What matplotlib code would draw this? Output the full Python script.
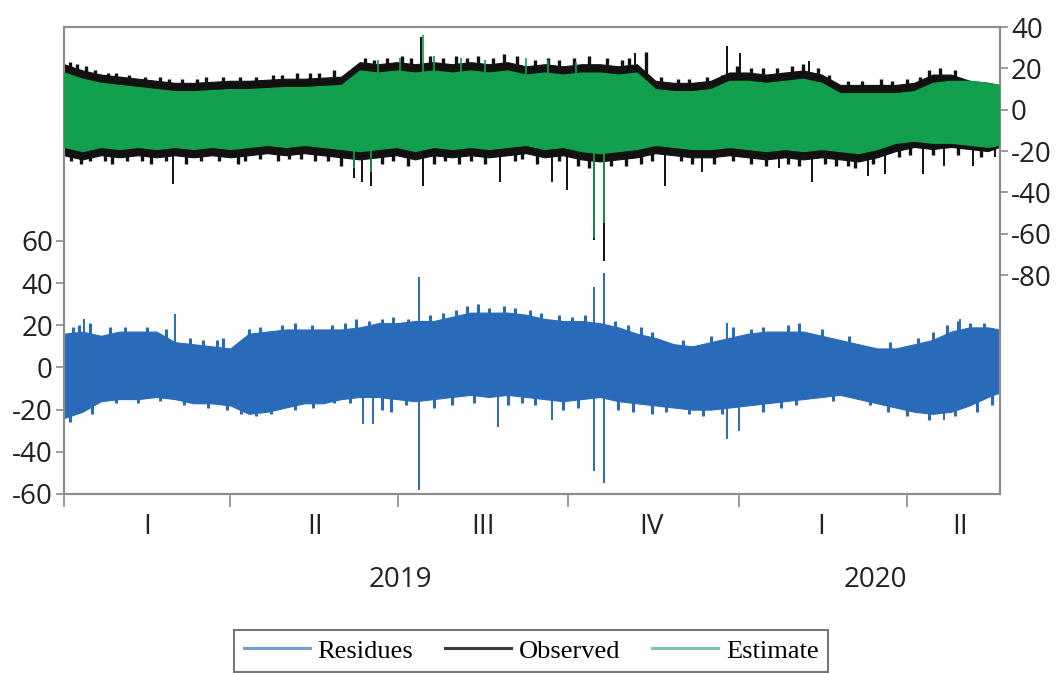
import matplotlib
matplotlib.use("Agg")
import matplotlib.pyplot as plt
import matplotlib.transforms as mtransforms
from matplotlib.lines import Line2D

# ---- data ----
# day offsets from 2019-01-01
days = [0, 10, 20, 30, 40, 50, 60, 70, 80, 90, 100, 110, 120, 130, 140, 150, 160, 170,
        180, 190, 200, 210, 220, 230, 240, 250, 260, 270, 280, 290, 300, 310, 320, 330,
        340, 350, 360, 370, 380, 390, 400, 410, 420, 430, 440, 450, 460, 470, 480, 490,
        500, 506]

obs_hi = [22, 19, 17, 16, 15, 14, 13, 13, 13.5, 14, 14, 14.5, 15, 15, 15.5, 16, 23, 22,
          23, 22, 23, 22, 23, 22, 23, 21, 22, 21, 22, 22, 21, 22, 14, 13, 13, 14, 18, 18,
          17, 18, 19, 17, 12, 12, 12, 12, 13, 17, 17, 14, 13, 12]
obs_lo = [-22, -24, -22, -23, -22, -23, -22, -23, -22, -23, -22, -21, -22, -21, -22, -23,
          -24, -23, -22, -24, -22, -23, -22, -23, -22, -21, -23, -22, -24, -25, -24, -23,
          -21, -22, -23, -23, -22, -23, -24, -23, -24, -23, -24, -25, -23, -20, -18, -19,
          -18, -19, -20, -18]

est_hi = [18, 15, 13, 12, 11, 10, 9, 9, 9.5, 10, 10, 10.5, 11, 11, 11.5, 12, 19, 18, 19,
          18, 19, 18, 19, 18, 19, 17, 18, 17, 18, 18, 17, 18, 10, 9, 9, 10, 14, 14, 13,
          14, 15, 13, 8, 8, 8, 8, 9, 13, 14, 14, 13, 12]
est_lo = [-18, -20, -18, -19, -18, -19, -18, -19, -18, -19, -18, -17, -18, -17, -18, -19,
          -20, -19, -18, -20, -18, -19, -18, -19, -18, -17, -19, -18, -20, -21, -20, -19,
          -17, -18, -19, -19, -18, -19, -20, -19, -20, -19, -20, -21, -19, -16, -15, -16,
          -16, -17, -18, -17]

res_hi = [16, 17, 15, 17, 17, 17, 12, 11, 10, 9, 16, 17, 18, 18, 18, 18, 19, 21, 21,
          22, 22, 24, 26, 26, 26, 25, 23, 22, 22, 21, 19, 16, 14, 11, 10, 12, 14, 16, 17,
          17, 17, 15, 13, 11, 9, 9, 11, 13, 17, 19, 19, 18]
res_lo = [-24, -21, -16, -15, -15, -14, -15, -17, -17, -18, -22, -21, -19, -17, -17, -15,
          -14, -14, -15, -16, -15, -14, -13, -14, -13, -14, -15, -16, -15, -14, -16, -17,
          -18, -19, -20, -20, -19, -18, -17, -16, -15, -14, -13, -15, -17, -19, -21, -22,
          -21, -18, -14, -12]

# isolated large spikes (day, value)
obs_spike_days = [59, 157, 161, 166, 194, 236, 264, 272, 287, 292, 325, 345, 387, 405,
                  435, 444, 465, 476, 492, 504, 193, 309, 359, 366, 403]
obs_spike_vals = [-36, -33, -35, -37, -37, -35, -35, -39, -63, -73, -37, -30, -28, -35,
                  -32, -31, -31, -27, -27, -23, 35, 27.5, 31, 27.5, 23.6]
est_spike_days = [157, 166, 287, 292, 194, 170, 182, 200, 215, 228, 250, 262, 277]
est_spike_vals = [-28, -30, -62, -55, 36, 24, 25, 26, 25, 24, 25, 24, 23]
res_spike_days = [11, 60, 115, 162, 167, 192, 192, 235, 264, 287, 287, 292, 292, 359,
                  359, 365, 476, 485]
res_spike_vals = [23, 25.5, 14, -27, -27, 43, -58, -28, -25, 38, -49, 45, -55, 21, -34,
                  -30, -25, 23]

# small ragged peaks along the band edges (day, value)
obs_up_days = [3, 7, 12, 17, 24, 28, 35, 44, 52, 57, 64, 72, 77, 86, 95, 104, 113, 118,
               126, 133, 138, 146, 154, 163, 168, 175, 183, 188, 198, 205, 212, 218, 224,
               232, 238, 245, 255, 262, 268, 276, 284, 294, 302, 306, 315, 323, 332, 338,
               348, 356, 364, 372, 378, 386, 394, 400, 408, 414, 424, 432, 442, 448, 456,
               463, 468, 474, 482]
obs_up_vals = [23, 22, 21, 19, 18, 18, 17, 16, 16, 15, 15, 15, 16, 16, 16, 16, 17, 17,
               18, 18, 18, 19, 18, 25, 24, 25, 26, 25, 26, 25, 26, 25, 26, 25, 27, 26, 24,
               25, 24, 25, 26, 25, 24, 25, 28, 16, 15, 15, 16, 17, 21, 20, 20, 20, 21, 22,
               20, 17, 14, 14, 15, 14, 15, 16, 19, 20, 19]
obs_dn_days = [4, 9, 14, 22, 26, 34, 42, 47, 55, 66, 74, 84, 94, 98, 106, 116, 122, 128,
               136, 143, 150, 172, 178, 186, 200, 206, 214, 220, 228, 244, 248, 256, 268,
               278, 284, 296, 304, 312, 318, 334, 340, 352, 362, 372, 380, 392, 398, 412,
               418, 424, 428, 438, 452, 458, 470, 484, 496]
obs_dn_vals = [-25, -26, -25, -25, -26, -25, -25, -26, -25, -26, -25, -25, -26, -25, -24,
               -25, -24, -24, -25, -25, -27, -26, -25, -27, -26, -25, -26, -25, -26, -25,
               -24, -26, -25, -27, -28, -27, -27, -26, -25, -25, -26, -26, -25, -26, -27,
               -26, -27, -26, -27, -27, -28, -26, -23, -22, -22, -22, -23]
res_up_days = [5, 8, 14, 25, 33, 45, 55, 68, 75, 83, 86, 100, 106, 118, 125, 134, 145,
               152, 158, 165, 172, 178, 186, 198, 205, 212, 218, 224, 230, 238, 244, 252,
               258, 268, 275, 282, 298, 305, 312, 318, 335, 350, 362, 372, 378, 392, 398,
               410, 425, 447, 462, 470, 478, 484, 490, 498]
res_up_vals = [19, 20, 21, 19, 19, 19, 18, 14, 13, 13, 14, 18, 19, 20, 21, 20, 20, 21,
               23, 22, 23, 24, 23, 25, 26, 27, 29, 30, 28, 29, 28, 27, 26, 25, 24, 25, 22,
               20, 19, 17, 13, 15, 19, 18, 19, 20, 21, 18, 15, 12, 14, 17, 20, 22, 21, 21]
res_dn_days = [3, 15, 28, 40, 52, 65, 78, 88, 96, 104, 112, 125, 135, 146, 155, 172, 177,
               185, 200, 210, 222, 240, 248, 255, 270, 278, 300, 308, 318, 326, 338, 346,
               356, 378, 388, 396, 416, 436, 446, 456, 468, 482, 494, 502]
res_dn_vals = [-26, -22, -17, -17, -16, -18, -19, -20, -22, -23, -22, -20, -19, -17, -17,
               -20, -21, -18, -19, -18, -17, -18, -17, -18, -20, -19, -20, -21, -22, -21,
               -22, -23, -22, -21, -19, -18, -16, -18, -21, -23, -25, -23, -21, -18]

quarter_starts = [0, 90, 181, 273, 365, 456]
quarter_mids = [45, 136, 227, 318, 410, 485]
quarter_labels = ["I", "II", "III", "IV", "I", "II"]
year_pos = [182, 439]
year_labels = ["2019", "2020"]

# ---- styling ----
RES_C = "#2a6bb9"
OBS_C = "#111111"
EST_C = "#13a04e"
SPINE_C = "#8c8c8c"
TXT_C = "#222222"
plt.rcParams["font.family"] = ["Open Sans", "DejaVu Sans"]

fig = plt.figure(figsize=(10.58, 6.73), dpi=100)
ax = fig.add_axes([64 / 1058, 1 - 494 / 673, 936 / 1058, 467 / 673])
ax2 = ax.twinx()

# residues (left axis)
ax.fill_between(days, res_lo, res_hi, color=RES_C, lw=0.8, zorder=2)
ax.vlines(res_up_days, 0, res_up_vals, color=RES_C, lw=2.2, zorder=2)
ax.vlines(res_dn_days, 0, res_dn_vals, color=RES_C, lw=2.2, zorder=2)
ax.vlines(res_spike_days, 0, res_spike_vals, color=RES_C, lw=1.4, zorder=2)
ax.set_ylim(-60, 161.4)
ax.set_yticks([-60, -40, -20, 0, 20, 40, 60])
ax.set_yticklabels(["-60", "-40", "-20", "0", "20", "40", "60"])

# observed and estimate (right axis)
ax2.fill_between(days, obs_lo, obs_hi, color=OBS_C, lw=0.8, zorder=2)
ax2.vlines(obs_up_days, 0, obs_up_vals, color=OBS_C, lw=2.4, zorder=2)
ax2.vlines(obs_dn_days, 0, obs_dn_vals, color=OBS_C, lw=2.4, zorder=2)
ax2.vlines(obs_spike_days, 0, obs_spike_vals, color=OBS_C, lw=1.4, zorder=2)
ax2.fill_between(days, est_lo, est_hi, color=EST_C, lw=0.8, zorder=3)
ax2.vlines(est_spike_days, 0, est_spike_vals, color=EST_C, lw=1.2, zorder=3)
ax2.set_ylim(-185.8, 40)
ax2.set_yticks([40, 20, 0, -20, -40, -60, -80])
ax2.set_yticklabels(["40", "20", "0", "-20", "-40", "-60", "-80"])

ax.set_xlim(0, 506.5)
ax.set_xticks(quarter_starts)
ax.set_xticklabels([])

for a in (ax, ax2):
    for s in a.spines.values():
        s.set_color(SPINE_C)
        s.set_linewidth(1.5)
    a.tick_params(colors=SPINE_C, labelcolor=TXT_C, labelsize=20, length=6, width=1.2)
ax.tick_params(axis="x", length=9, direction="out")
ax.tick_params(axis="y", pad=2)
ax2.tick_params(axis="y", pad=2)

trans = mtransforms.blended_transform_factory(ax.transData, ax.transAxes)
for d, lab in zip(quarter_mids, quarter_labels):
    ax.text(d, -0.071, lab, transform=trans, ha="center", va="center", fontsize=20,
            color=TXT_C)
for d, lab in zip(year_pos, year_labels):
    ax.text(d, -0.184, lab, transform=trans, ha="center", va="center", fontsize=20,
            color=TXT_C)

handles = [Line2D([], [], color="#6d9fd6", lw=2.2),
           Line2D([], [], color="#3a3a3a", lw=2.2),
           Line2D([], [], color="#7cc6ad", lw=2.2)]
leg = fig.legend(handles, ["Residues", "Observed", "Estimate"], loc="upper center",
                 bbox_to_anchor=(0.502, 0.064), ncol=3, frameon=True, fancybox=False,
                 prop={"family": "Liberation Serif", "size": 19}, handlelength=2.5,
                 handletextpad=0.3, columnspacing=1.2, borderpad=0.35, borderaxespad=0)
leg.get_frame().set_edgecolor("#555555")
leg.get_frame().set_linewidth(1.5)

fig.savefig("out.png", dpi=100)
